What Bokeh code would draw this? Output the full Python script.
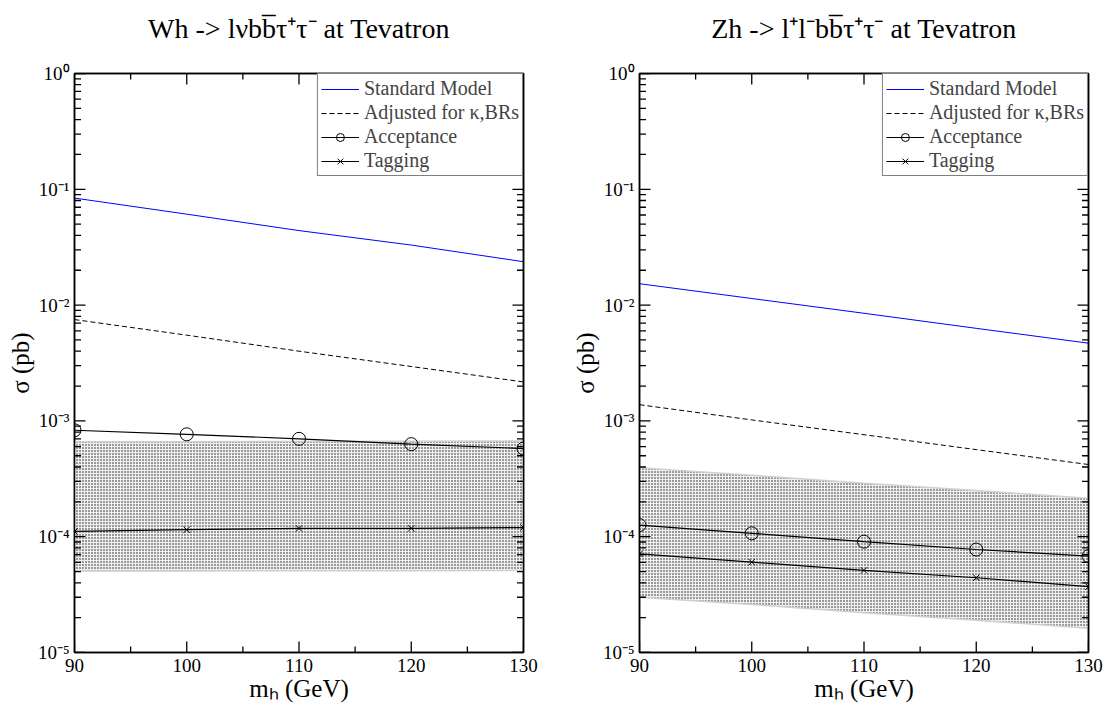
from bokeh.plotting import figure
from bokeh.models import (LogAxis, LinearAxis, LogTicker, SingleIntervalTicker,
                          CustomJSTickFormatter, Legend, LegendItem, Label)
from bokeh.layouts import row, column
from bokeh.embed import file_html
from bokeh.resources import INLINE
import math

# ---------------- data ----------------
mh = [90, 100, 110, 120, 130]

# Wh -> l nu b bbar tau+ tau-
wh_sm = [0.084, 0.061, 0.044, 0.033, 0.0237]
wh_adj = [7.5e-3, 5.5e-3, 4.0e-3, 2.95e-3, 2.17e-3]
wh_acc = [8.3e-4, 7.66e-4, 7.0e-4, 6.3e-4, 5.77e-4]
wh_tag = [1.11e-4, 1.15e-4, 1.18e-4, 1.18e-4, 1.2e-4]
wh_band_hi = [6.6e-4, 6.62e-4, 6.65e-4, 6.67e-4, 6.7e-4]
wh_band_lo = [5.05e-5, 5.06e-5, 5.08e-5, 5.09e-5, 5.1e-5]

# Zh -> l+ l- b bbar tau+ tau-
zh_sm = [0.0153, 0.0114, 0.0085, 0.0063, 0.00469]
zh_adj = [1.38e-3, 1.02e-3, 7.6e-4, 5.65e-4, 4.2e-4]
zh_acc = [1.26e-4, 1.07e-4, 9.06e-5, 7.75e-5, 6.8e-5]
zh_tag = [7.1e-5, 6.03e-5, 5.12e-5, 4.42e-5, 3.7e-5]
zh_band_hi = [3.94e-4, 3.4e-4, 2.9e-4, 2.5e-4, 2.15e-4]
zh_band_lo = [3.0e-5, 2.6e-5, 2.2e-5, 1.9e-5, 1.62e-5]

titles = ["Wh -> l\u03bdbb\u0305\u03c4\u207a\u03c4\u207b at Tevatron",
          "Zh -> l\u207al\u207bbb\u0305\u03c4\u207a\u03c4\u207b at Tevatron"]
legend_labels = ["Standard Model", "Adjusted for \u03ba,BRs", "Acceptance", "Tagging"]
x_label = "m\u2095 (GeV)"
y_label = "\u03c3 (pb)"

# tick positions
x_major = [90, 100, 110, 120, 130]
x_minor = [95, 105, 115, 125]
y_exponents = [-5, -4, -3, -2, -1, 0]
y_major = [10.0 ** e for e in y_exponents]
y_minor = [k * 10.0 ** e for e in y_exponents[:-1] for k in range(2, 10)]

FONT = "Liberation Serif"
X0, X1, Y0, Y1 = 90, 130, 1e-5, 1
TITLE_H = 56

log_fmt = CustomJSTickFormatter(code="""
const sup = {"-":"\u207b","0":"\u2070","1":"\u00b9","2":"\u00b2","3":"\u00b3",
             "4":"\u2074","5":"\u2075","6":"\u2076","7":"\u2077","8":"\u2078","9":"\u2079"};
const e = Math.round(Math.log10(tick));
return "10" + String(e).split("").map(c => sup[c]).join("");
""")


def style_axis(ax):
    ax.axis_line_width = 1.5
    ax.axis_line_color = "black"
    ax.major_tick_in = 0
    ax.major_tick_out = 0
    ax.minor_tick_in = 0
    ax.minor_tick_out = 0
    ax.major_label_text_font = FONT
    ax.major_label_text_font_size = "19px"
    ax.major_label_text_color = "black"
    ax.axis_label_text_font = FONT
    ax.axis_label_text_font_size = "25px"
    ax.axis_label_text_font_style = "normal"
    ax.axis_label_text_color = "black"


def draw_ticks(p):
    # inward ticks on all four sides (dash markers clipped by the frame)
    for xs, size in ((x_major, 22), (x_minor, 12)):
        p.scatter(xs, [Y0] * len(xs), marker="dash", angle=math.pi / 2, size=size,
                  line_color="black", line_width=1.3)
        p.scatter(xs, [Y1] * len(xs), marker="dash", angle=math.pi / 2, size=size,
                  line_color="black", line_width=1.3)
    for ys, size in ((y_major, 22), (y_minor, 13)):
        p.scatter([X0] * len(ys), ys, marker="dash", size=size,
                  line_color="black", line_width=1.3)
        p.scatter([X1] * len(ys), ys, marker="dash", size=size,
                  line_color="black", line_width=1.3)


def make_title(text, width, bl, br):
    t = figure(width=width, height=TITLE_H, x_range=(X0, X1), y_range=(0, 1),
               output_backend="svg", toolbar_location=None,
               x_axis_location=None, y_axis_location=None,
               min_border_left=bl, min_border_right=br,
               min_border_top=0, min_border_bottom=0)
    t.grid.visible = False
    t.outline_line_color = None
    t.add_layout(Label(x=(X0 + X1) / 2, y=0.5, text=text, text_font=FONT,
                       text_font_size="28px", text_color="black",
                       text_align="center", text_baseline="middle"))
    return t


def make_panel(sm, adj, acc, tag, lo, hi, width, bl, br):
    p = figure(width=width, height=704 - TITLE_H, y_axis_type="log",
               x_range=(X0, X1), y_range=(Y0, Y1),
               output_backend="svg", toolbar_location=None,
               min_border_left=bl, min_border_right=br,
               min_border_top=73 - TITLE_H, min_border_bottom=49)
    p.grid.visible = False
    p.outline_line_color = "black"
    p.outline_line_width = 1.5

    p.xaxis.ticker = SingleIntervalTicker(interval=10, num_minor_ticks=2)
    p.yaxis.ticker = LogTicker(num_minor_ticks=10)
    p.yaxis.formatter = log_fmt
    p.xaxis.axis_label = x_label
    p.yaxis.axis_label = y_label
    for ax in p.xaxis + p.yaxis:
        style_axis(ax)
    p.xaxis.axis_label_standoff = 0
    p.yaxis.axis_label_standoff = 1
    p.xaxis.major_label_standoff = 6
    p.yaxis.major_label_standoff = 5

    top = LinearAxis(ticker=SingleIntervalTicker(interval=10, num_minor_ticks=2))
    right = LogAxis(ticker=LogTicker(num_minor_ticks=10))
    for ax in (top, right):
        style_axis(ax)
        ax.major_label_text_font_size = "1px"
        ax.major_label_text_alpha = 0
        ax.major_label_standoff = 0
    p.add_layout(top, "above")
    p.add_layout(right, "right")

    # shaded band
    p.varea(x=mh, y1=lo, y2=hi, fill_color="#f0f0f0", fill_alpha=1.0,
            hatch_pattern="dot", hatch_color="black", hatch_scale=3,
            hatch_weight=1, hatch_alpha=0.9)
    p.line(mh, hi, line_color="#d0d0d0", line_width=1.5)
    p.line(mh, lo, line_color="#d0d0d0", line_width=1.5)

    draw_ticks(p)

    r_sm = p.line(mh, sm, line_color="blue", line_width=1)
    r_adj = p.line(mh, adj, line_color="black", line_width=1, line_dash="5 3")
    r_acc_l = p.line(mh, acc, line_color="black", line_width=1.2)
    r_acc_s = p.scatter(mh, acc, marker="circle", size=13, fill_color=None,
                        line_color="black", line_width=1)
    r_tag_l = p.line(mh, tag, line_color="black", line_width=1.2)
    r_tag_s = p.scatter(mh, tag, marker="x", size=9, line_color="black", line_width=1)

    legend = Legend(items=[
        LegendItem(label=legend_labels[0], renderers=[r_sm]),
        LegendItem(label=legend_labels[1], renderers=[r_adj]),
        LegendItem(label=legend_labels[2], renderers=[r_acc_l, r_acc_s]),
        LegendItem(label=legend_labels[3], renderers=[r_tag_l, r_tag_s]),
    ], location="top_right")
    legend.margin = 0
    legend.padding = 3
    legend.spacing = 1
    legend.border_line_color = "black"
    legend.border_line_width = 1
    legend.background_fill_alpha = 1
    legend.label_text_font = FONT
    legend.label_text_font_size = "20px"
    legend.label_height = 20
    legend.glyph_height = 20
    legend.glyph_width = 38
    legend.label_standoff = 5
    p.add_layout(legend)
    return p


t1 = make_title(titles[0], width=560, bl=74, br=37)
t2 = make_title(titles[1], width=546, bl=79, br=18)
p1 = make_panel(wh_sm, wh_adj, wh_acc, wh_tag, wh_band_lo, wh_band_hi,
                width=560, bl=74, br=37)
p2 = make_panel(zh_sm, zh_adj, zh_acc, zh_tag, zh_band_lo, zh_band_hi,
                width=546, bl=79, br=18)

layout = column(row(t1, t2), row(p1, p2))
with open("out.html", "w") as f:
    f.write(file_html(layout, INLINE))
